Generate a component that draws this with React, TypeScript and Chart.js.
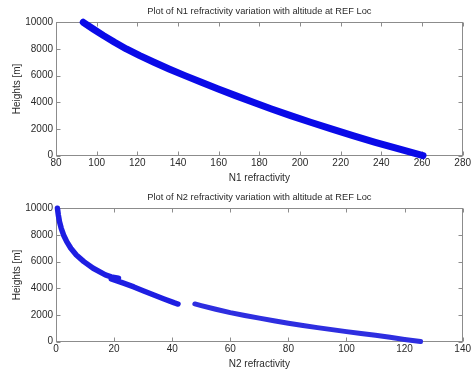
import React, { useEffect, useRef } from "react";
import { Chart, registerables } from "chart.js";

Chart.register(...registerables);

// ---- Data ----
// Top plot: N1 refractivity vs height
const N1_HEIGHTS = [0, 500, 1000, 1500, 2000, 2500, 3000, 3500, 4000, 4500, 5000, 5500, 6000, 6500, 7000, 7500, 8000, 8500, 9000, 9500, 10000];
const N1_VALUES = [260.5, 248.6, 237.0, 226.0, 215.4, 205.2, 195.4, 186.0, 177.0, 168.3, 159.8, 151.5, 143.4, 135.6, 128.2, 121.2, 114.6, 108.8, 103.4, 98.3, 93.4];

// Bottom plot: N2 refractivity vs height (two segments with a gap)
const N2_UPPER_HEIGHTS = [10000, 9500, 9000, 8500, 8000, 7500, 7000, 6500, 6000, 5500, 5000, 4850, 4750, 4700, 4550, 4400, 4100, 3800, 3500, 3200, 2900, 2820];
const N2_UPPER_VALUES = [0.5, 0.8, 1.2, 1.8, 2.6, 3.7, 5.1, 7.0, 9.6, 12.8, 17.0, 19.0, 21.5, 19.0, 21.0, 23.0, 26.8, 30.2, 33.7, 37.2, 40.8, 42.0];
const N2_LOWER_HEIGHTS = [2826, 2700, 2430, 2175, 1960, 1760, 1570, 1380, 1210, 1050, 900, 750, 610, 470, 320, 165, 0];
const N2_LOWER_VALUES = [47.8, 50, 55, 60, 65, 70, 75, 80, 85, 90, 95, 100, 105, 110, 115, 120, 125.5];

const N1_X_RANGE = [80, 280];
const N2_X_RANGE = [0, 140];
const HEIGHT_RANGE = [0, 10000];

const TITLE_N1 = "Plot of N1 refractivity variation with altitude at REF Loc";
const TITLE_N2 = "Plot of N2 refractivity variation with altitude at REF Loc";
const X_TITLE_N1 = "N1 refractivity";
const X_TITLE_N2 = "N2 refractivity";
const Y_TITLE = "Heights [m]";

const AXIS_GRAY = "#8c8c8c";
const TEXT = "#2a2a2a";
const FONT = "'Liberation Sans', Arial, Helvetica, sans-serif";

function toPoints(xs: number[], ys: number[]) {
  return xs.map((x, i) => ({ x, y: ys[i] }));
}

const boxPlugin = {
  id: "matlabBox",
  beforeDatasetsDraw(chart: any) {
    const { ctx, chartArea: a, scales } = chart;
    ctx.save();
    ctx.strokeStyle = AXIS_GRAY;
    ctx.lineWidth = 1;
    const l = Math.round(a.left) + 0.5;
    const r = Math.round(a.right) - 0.5;
    const t = Math.round(a.top) + 0.5;
    const b = Math.round(a.bottom) - 0.5;
    ctx.strokeRect(l, t, r - l, b - t);
    const L = 4;
    ctx.beginPath();
    scales.x.ticks.forEach((tk: any) => {
      const px = Math.round(scales.x.getPixelForValue(tk.value)) + 0.5;
      ctx.moveTo(px, b);
      ctx.lineTo(px, b - L);
      ctx.moveTo(px, t);
      ctx.lineTo(px, t + L);
    });
    scales.y.ticks.forEach((tk: any) => {
      const py = Math.round(scales.y.getPixelForValue(tk.value)) + 0.5;
      ctx.moveTo(l, py);
      ctx.lineTo(l + L, py);
      ctx.moveTo(r, py);
      ctx.lineTo(r - L, py);
    });
    ctx.stroke();
    // plot title, centred over the axes box as in the reference
    const title = chart.options.plugins.plotTitle?.text;
    if (title) {
      ctx.fillStyle = TEXT;
      ctx.font = `9.3px ${FONT}`;
      ctx.textAlign = "center";
      ctx.textBaseline = "middle";
      ctx.fillText(title, (a.left + a.right) / 2, 11.5);
    }
    ctx.restore();
  },
};

type PlotProps = {
  height: number;
  xRange: number[];
  title: string;
  xTitle: string;
  datasets: any[];
};

function Plot({ height, xRange, title, xTitle, datasets }: PlotProps) {
  const ref = useRef<HTMLCanvasElement | null>(null);
  useEffect(() => {
    if (!ref.current) return;
    const chart = new Chart(ref.current, {
      type: "scatter",
      data: { datasets },
      plugins: [boxPlugin],
      options: {
        animation: false,
        responsive: false,
        maintainAspectRatio: false,
        layout: { padding: { left: 0, right: 10, top: 22.3, bottom: 0 } },
        plugins: {
          legend: { display: false },
          tooltip: { enabled: false },
          title: { display: false },
          plotTitle: { text: title },
        },
        scales: {
          x: {
            type: "linear",
            min: xRange[0],
            max: xRange[1],
            ticks: {
              stepSize: 20,
              color: TEXT,
              font: { family: FONT, size: 10 },
              padding: 2,
              maxRotation: 0,
              callback: (v: any) => String(v),
            },
            grid: { display: false, drawTicks: false },
            border: { display: false },
            title: {
              display: true,
              text: xTitle,
              color: TEXT,
              font: { family: FONT, size: 10 },
              padding: { top: 0, bottom: height - 186 + 2 },
            },
            afterFit: (s: any) => {
              s.height = height - 155.6;
            },
          },
          y: {
            type: "linear",
            min: HEIGHT_RANGE[0],
            max: HEIGHT_RANGE[1],
            ticks: {
              stepSize: 2000,
              color: TEXT,
              font: { family: FONT, size: 10 },
              padding: 3,
              callback: (v: any) => String(v),
            },
            grid: { display: false, drawTicks: false },
            border: { display: false },
            title: {
              display: true,
              text: Y_TITLE,
              color: TEXT,
              font: { family: FONT, size: 10 },
              padding: { top: 11.5, bottom: 0 },
            },
            afterFit: (s: any) => {
              s.width = 56;
            },
          },
        },
      } as any,
    });
    return () => chart.destroy();
  }, []);
  return <canvas ref={ref} width={473} height={height} style={{ display: "block", width: 473, height }} />;
}

const lineStyle = (color: string, width: number) => ({
  showLine: true,
  borderColor: color,
  backgroundColor: color,
  borderWidth: width,
  borderCapStyle: "round",
  borderJoinStyle: "round",
  pointRadius: 0,
  tension: 0,
  clip: false,
});

export default function App() {
  const n1Datasets = [
    { data: toPoints(N1_VALUES, N1_HEIGHTS), ...lineStyle("#0a0ae8", 7) },
  ];
  const n2Datasets = [
    { data: toPoints(N2_UPPER_VALUES, N2_UPPER_HEIGHTS), ...lineStyle("#1e1ee2", 5.5) },
    { data: toPoints(N2_LOWER_VALUES, N2_LOWER_HEIGHTS), ...lineStyle("#2e2ee0", 5) },
  ];
  return (
    <div style={{ position: "absolute", left: 0, top: 0, width: 473, height: 373, background: "#fff" }}>
      <Plot height={186} xRange={N1_X_RANGE} title={TITLE_N1} xTitle={X_TITLE_N1} datasets={n1Datasets} />
      <Plot height={187} xRange={N2_X_RANGE} title={TITLE_N2} xTitle={X_TITLE_N2} datasets={n2Datasets} />
    </div>
  );
}
